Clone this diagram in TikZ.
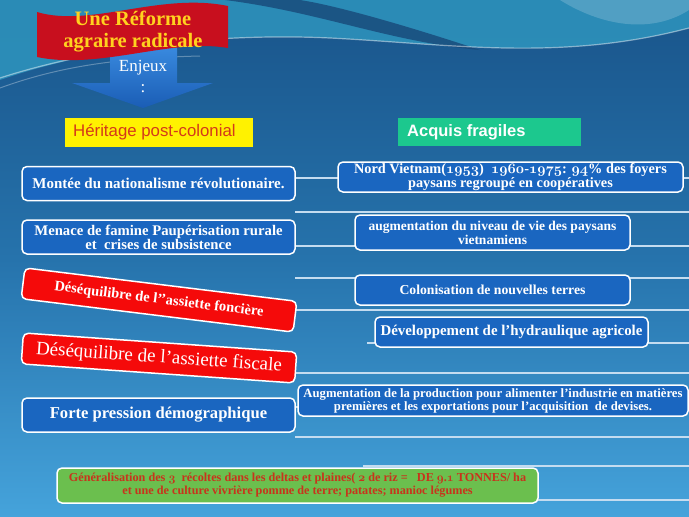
\documentclass[tikz,border=0pt]{standalone}
\usepackage{fontspec}
\setmainfont{Liberation Serif}
\newfontfamily\arialf{Liberation Sans}
\newcommand\osn[1]{{\usefont{OML}{cmm}{b}{it}#1}}
\definecolor{bgtop}{HTML}{19548A}
\definecolor{bgmid}{HTML}{2673AC}
\definecolor{bgbot}{HTML}{45A3DB}
\definecolor{wavec}{HTML}{2E95BE}
\definecolor{darkwave}{HTML}{184878}
\definecolor{boxblue}{HTML}{1A66C0}
\definecolor{linec}{HTML}{C4DCF0}
\definecolor{redbox}{HTML}{F50A0A}
\definecolor{banred}{HTML}{C80F1E}
\definecolor{gold}{HTML}{FFD21F}
\definecolor{greenbox}{HTML}{6BBF4E}
\definecolor{greentxt}{HTML}{C8341C}
\definecolor{teal}{HTML}{1CC88E}
\definecolor{herittxt}{HTML}{D4391A}
\definecolor{arrowtop}{HTML}{3A8BE0}
\definecolor{arrowbot}{HTML}{1A5DB5}
\tikzset{
  bbox/.style={draw=white, line width=1.5pt, fill=boxblue, rounded corners=5pt,
    text=white, font=\bfseries\fontsize{13}{13}\selectfont, align=center, inner sep=1pt},
  rbox/.style={draw=white, line width=1.5pt, fill=redbox, rounded corners=5pt,
    text=white, align=center, inner sep=1pt, minimum width=274pt, minimum height=31pt},
  rule/.style={linec, line width=2.5pt},
}
\begin{document}
\begin{tikzpicture}[x=1pt,y=-1pt]
\useasboundingbox (0,0) rectangle (689,517);
% background
\shade[top color=bgtop, bottom color=bgbot, middle color=bgmid] (0,0) rectangle (689,517);
\fill[wavec, opacity=0.85] (0,0) -- (0,80) .. controls (80,52) and (200,32) .. (330,38)
   .. controls (450,44) and (560,62) .. (689,28) -- (689,0) -- cycle;
\fill[darkwave, opacity=0.8] (225,0) .. controls (320,12) and (390,42) .. (480,50)
   .. controls (420,30) and (340,6) .. (300,0) -- cycle;
\fill[white, opacity=0.18] (560,0) .. controls (600,25) and (650,35) .. (689,10) -- (689,0) -- cycle;
\draw[white, opacity=0.45, line width=1.2pt] (0,78) .. controls (80,52) and (200,32) .. (330,38)
   .. controls (450,44) and (560,62) .. (689,28);
\draw[white, opacity=0.3, line width=1pt] (0,88) .. controls (60,66) and (120,58) .. (200,56);
% rules
\foreach \yy in {178,212,246,278,310,373,407,437,500}
  \draw[rule] (295,\yy) -- (689,\yy);
\draw[rule] (367,343) -- (689,343);
\draw[rule] (363,466) -- (689,466);
% arrow
\shade[top color=arrowtop, bottom color=arrowbot] (110,45) -- (177,45) -- (177,83) -- (213,83)
   -- (143,108) -- (72,83) -- (110,83) -- cycle;
\node[text=white, font=\fontsize{17}{17}\selectfont] (enj) at (143,68) {Enjeux};
\node[text=white, font=\fontsize{17}{17}\selectfont] (colon) at (143,89) {:};
% banner
\fill[banred] (37,12) .. controls (90,28) and (160,-8) .. (228,6) -- (228,48)
   .. controls (170,38) and (100,70) .. (37,57) -- cycle;
\node[text=gold, font=\bfseries\fontsize{20.5}{22}\selectfont, align=center] (title) at (133,32)
   {Une Réforme\\agraire radicale};
% headers
\fill[yellow] (65,118) rectangle (253,147);
\node[anchor=west, text=herittxt, font=\arialf\fontsize{16.8}{16}\selectfont, inner sep=0pt] (herit) at (73,132.5)
   {Héritage post-colonial};
\fill[teal] (398,118) rectangle (581,146);
\node[anchor=west, text=white, font=\arialf\bfseries\fontsize{16.5}{16}\selectfont, inner sep=0pt] (acq) at (407,132)
   {Acquis fragiles};
% left column
\node[bbox, minimum width=273pt, minimum height=34pt, font=\bfseries\fontsize{15}{14}\selectfont] (mont) at (158.5,183.5)
   {Montée du nationalisme révolutionaire.};
\node[bbox, minimum width=273pt, minimum height=34pt, font=\bfseries\fontsize{14.7}{14}\selectfont] (menace) at (158.5,237)
   {Menace de famine Paupérisation rurale\\et~ crises de subsistence};
\node[rbox, rotate=-7, font=\bfseries\fontsize{14.5}{14}\selectfont] (fonc) at (159,300)
   {Déséquilibre de l'{}'assiette foncière};
\node[rbox, rotate=-4, font=\fontsize{19}{19}\selectfont] (fisc) at (159,358)
   {Déséquilibre de l'assiette fiscale};
\node[bbox, minimum width=273pt, minimum height=34pt, font=\bfseries\fontsize{16.6}{16}\selectfont] (forte) at (158.5,415)
   {Forte pression démographique};
% right column
\node[bbox, minimum width=345pt, minimum height=30pt, font=\bfseries\fontsize{14.3}{14}\selectfont] (nord) at (510.5,177)
   {Nord Vietnam(\osn{1953})~ \osn{1960}-\osn{1975}: \osn{94}\% des foyers\\paysans regroupé en coopératives};
\node[bbox, minimum width=275pt, minimum height=35pt, font=\bfseries\fontsize{13.5}{14}\selectfont] (niveau) at (492.5,232.5)
   {augmentation du niveau de vie des paysans\\vietnamiens};
\node[bbox, minimum width=275pt, minimum height=30pt, font=\bfseries\fontsize{13.7}{14}\selectfont] (colo) at (492.5,290)
   {Colonisation de nouvelles terres};
\node[bbox, minimum width=273pt, minimum height=30pt, font=\bfseries\fontsize{14.9}{15}\selectfont] (hydro) at (511.5,332)
   {Développement de l'hydraulique agricole};
\node[bbox, minimum width=390pt, minimum height=31pt, font=\bfseries\fontsize{12.7}{13}\selectfont] (prod) at (493,400.5)
   {Augmentation de la production pour alimenter l'industrie en matières\\premières et les exportations pour l'acquisition~ de devises.};
% bottom
\node[draw=white, line width=1.5pt, fill=greenbox, rounded corners=5pt, text=greentxt,
   font=\bfseries\fontsize{12.2}{13}\selectfont, align=center, inner sep=1pt,
   minimum width=481pt, minimum height=35pt] (gen) at (297.5,485.5)
   {Généralisation des \osn{3}~ récoltes dans les deltas et plaines( \osn{2} de riz =~~ DE \osn{9}.\osn{1} TONNES/ ha\\et une de culture vivrière pomme de terre; patates; manioc légumes};
\end{tikzpicture}
\end{document}
